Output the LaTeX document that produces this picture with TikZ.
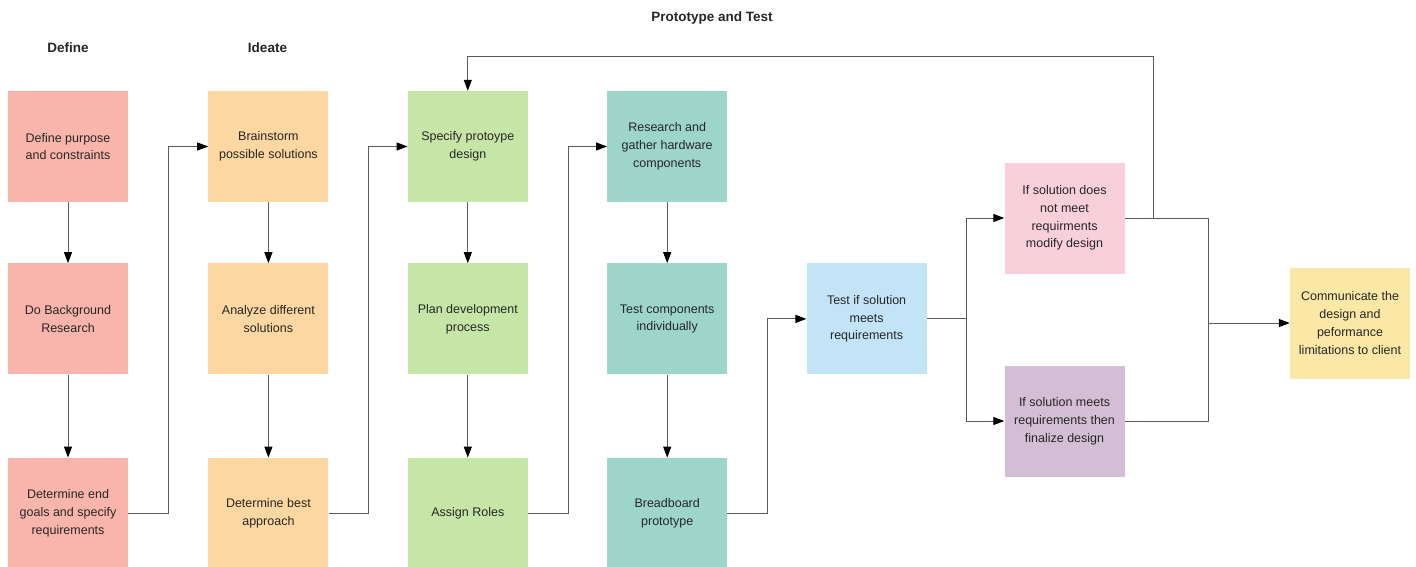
\documentclass[tikz,border=0pt]{standalone}
\usepackage{fontspec}
\setmainfont{Liberation Sans}
\usepackage{tikz}
\usetikzlibrary{arrows.meta, positioning}

\definecolor{definecol}{HTML}{F9B5AC}
\definecolor{ideatecol}{HTML}{FCD7A1}
\definecolor{protocol}{HTML}{C6E6A8}
\definecolor{hardcol}{HTML}{9DD5CB}
\definecolor{testcol}{HTML}{C2E4F6}
\definecolor{modifycol}{HTML}{F8CFDB}
\definecolor{finalcol}{HTML}{D4BED6}
\definecolor{commcol}{HTML}{FCE8A6}
\definecolor{linegray}{HTML}{5A5A5A}
\definecolor{textgray}{HTML}{262626}

\newcommand{\boxfont}{\fontsize{12.5}{17.8}\selectfont}
\newcommand{\headfont}{\fontsize{13.5}{16}\selectfont\bfseries}

\begin{document}
\begin{tikzpicture}[x=1pt, y=-1pt, node distance=61pt and 79pt,
	box/.style={minimum width=120pt, minimum height=111pt, inner sep=2pt,
	align=center, font=\boxfont, text=textgray},
	head/.style={font=\headfont, text=textgray},
	wire/.style={draw=linegray, line width=1pt},
	link/.style={wire, -{Triangle[length=11pt, width=8pt, color=black]}}]
		\useasboundingbox (0,0) rectangle (1416,566);

		% Define
		\node [head] (definehead) at (68,48) {Define};
		\node [box, fill=definecol] (purpose) at (68,146.5)
			{Define purpose\\and constraints};
		\node [box, fill=definecol, below=of purpose] (background)
			{Do Background\\Research};
		\node [box, fill=definecol, below=83pt of background] (goals)
			{Determine end\\goals and specify\\requirements};

		% Ideate
		\node [head] (ideatehead) at (267.5,48) {Ideate};
		\node [box, fill=ideatecol, right=80pt of purpose] (brainstorm)
			{Brainstorm\\possible solutions};
		\node [box, fill=ideatecol, below=of brainstorm] (analyze)
			{Analyze different\\solutions};
		\node [box, fill=ideatecol, below=83pt of analyze] (approach)
			{Determine best\\approach};

		% Prototype and Test
		\node [head] (protohead) at (712,18) {Prototype and Test};
		\node [box, fill=protocol, right=of brainstorm] (specify)
			{Specify protoype\\design};
		\node [box, fill=protocol, below=of specify] (plan)
			{Plan development\\process};
		\node [box, fill=protocol, below=83pt of plan] (roles)
			{Assign Roles};

		\node [box, fill=hardcol, right=of specify] (gather)
			{Research and\\gather hardware\\components};
		\node [box, fill=hardcol, below=of gather] (components)
			{Test components\\individually};
		\node [box, fill=hardcol, below=83pt of components] (breadboard)
			{Breadboard\\prototype};

		\node [box, fill=testcol, right=of components] (testsol)
			{Test if solution\\meets\\requirements};
		\node [box, fill=modifycol] (modify) at (1064.5,218)
			{If solution does\\not meet\\requirments\\modify design};
		\node [box, fill=finalcol] (finalize) at (1064.5,421)
			{If solution meets\\requirements then\\finalize design};
		\node [box, fill=commcol] (communicate) at (1350,323)
			{Communicate the\\design and\\peformance\\limitations to client};

		\coordinate (loop) at (1153,56);
		\coordinate (join) at (1208,323);

		% down the columns
		\foreach \a/\b in {purpose/background, background/goals,
			brainstorm/analyze, analyze/approach, specify/plan, plan/roles,
			gather/components, components/breadboard}
			\draw [link] (\a) -- (\b);

		% from one column to the next
		\draw [link] (goals.east) -- ++(40pt,0) |- (brainstorm.west);
		\draw [link] (approach.east) -- ++(40pt,0) |- (specify.west);
		\draw [link] (roles.east) -- ++(40pt,0) |- (gather.west);
		\draw [link] (breadboard.east) -- ++(40pt,0) |- (testsol.west);

		% test and decide
		\draw [wire] (testsol.east) -- ++(40pt,0) coordinate (split);
		\draw [link] (split) |- (modify.west);
		\draw [link] (split) |- (finalize.west);
		\draw [link] (modify.east) -| (loop) -| (specify.north);
		\draw [wire] (modify.east) -| (join);
		\draw [wire] (finalize.east) -| (join);
		\draw [link] (join) -- (communicate.west);
\end{tikzpicture}
\end{document}
